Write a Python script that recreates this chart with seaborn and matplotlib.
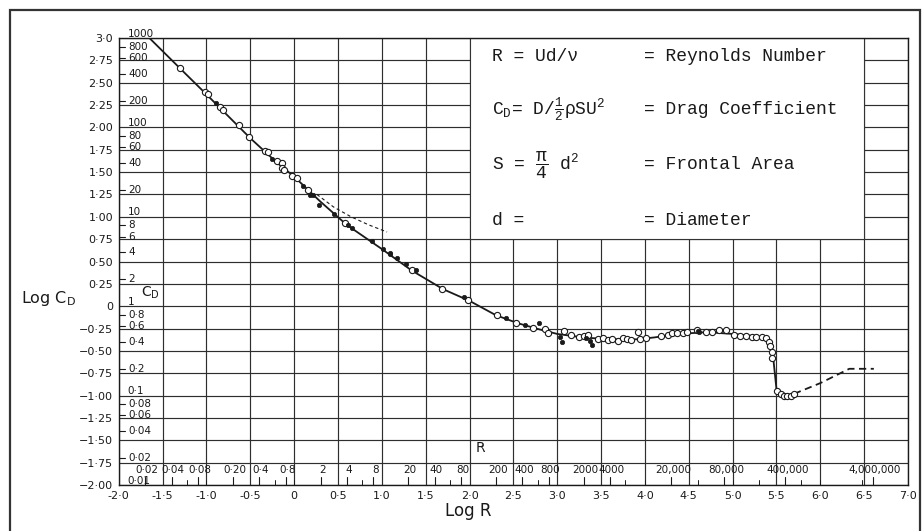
import numpy as np
import matplotlib
matplotlib.use("Agg")
import matplotlib.pyplot as plt
import seaborn as sns
from matplotlib.patches import Rectangle

# ---------------- data ----------------
curve_logR = [-1.65, -1.3, -1.0, -0.5, -0.2, 0.0, 0.3, 0.6, 1.0, 1.34, 1.7, 2.0,
              2.3, 2.55, 2.8, 3.0, 3.3, 3.6, 3.9, 4.1, 4.4, 4.7, 5.0, 5.3, 5.38,
              5.42, 5.46, 5.50, 5.55, 5.62, 5.70]
curve_logCd = [3.0, 2.66, 2.37, 1.88, 1.61, 1.45, 1.17, 0.91, 0.64, 0.40, 0.19, 0.06,
               -0.10, -0.19, -0.26, -0.31, -0.35, -0.37, -0.37, -0.35, -0.31, -0.29,
               -0.31, -0.34, -0.35, -0.42, -0.55, -0.93, -0.99, -1.00, -0.98]

oseen_logR = [0.26, 0.45, 0.65, 0.85, 1.06]
oseen_logCd = [1.25, 1.11, 1.00, 0.91, 0.83]

high_logR = [5.70, 6.0, 6.33, 6.61]
high_logCd = [-0.98, -0.86, -0.70, -0.70]

open_logR = [-1.30, -1.02, -0.98, -0.85, -0.81, -0.63, -0.51, -0.33, -0.30, -0.19,
             -0.14, -0.14, -0.11, -0.02, 0.03, 0.16, 0.58, 1.34, 1.69, 1.98, 2.31,
             2.53, 2.72, 2.86, 2.89, 3.08, 3.16, 3.25, 3.31, 3.35, 3.46, 3.52, 3.58,
             3.63, 3.69, 3.75, 3.79, 3.84, 3.92, 3.94, 4.01, 4.18, 4.26, 4.31, 4.37,
             4.43, 4.48, 4.59, 4.70, 4.77, 4.85, 4.93, 5.02, 5.08, 5.15, 5.22, 5.27,
             5.33, 5.38, 5.41, 5.43, 5.45, 5.45, 5.51, 5.55, 5.59, 5.62, 5.66, 5.70]
open_logCd = [2.66, 2.40, 2.37, 2.23, 2.20, 2.03, 1.89, 1.74, 1.72, 1.62,
              1.60, 1.55, 1.52, 1.46, 1.43, 1.30, 0.93, 0.40, 0.19, 0.07, -0.10,
              -0.19, -0.24, -0.26, -0.30, -0.28, -0.32, -0.34, -0.33, -0.32, -0.37, -0.35, -0.38,
              -0.37, -0.39, -0.35, -0.37, -0.38, -0.29, -0.37, -0.36, -0.33, -0.32, -0.30, -0.30,
              -0.30, -0.29, -0.27, -0.29, -0.29, -0.27, -0.27, -0.32, -0.33, -0.33, -0.34, -0.34,
              -0.34, -0.35, -0.40, -0.45, -0.51, -0.58, -0.95, -0.98, -1.00, -1.00, -1.00, -0.98]

filled_logR = [-0.89, -0.25, 0.10, 0.18, 0.21, 0.28, 0.46, 0.61, 0.66, 0.89, 1.01,
               1.09, 1.09, 1.17, 1.28, 1.39, 1.94, 2.42, 2.63, 2.79, 3.03, 3.05,
               3.33, 3.37, 3.40, 4.60, 4.62]
filled_logCd = [2.27, 1.65, 1.34, 1.24, 1.24, 1.13, 1.03, 0.91, 0.88, 0.73, 0.64,
                0.60, 0.58, 0.54, 0.47, 0.40, 0.10, -0.13, -0.21, -0.19, -0.34, -0.40,
                -0.36, -0.39, -0.43, -0.28, -0.29]

x_ticks = [-2.0, -1.5, -1.0, -0.5, 0.0, 0.5, 1.0, 1.5, 2.0, 2.5, 3.0, 3.5, 4.0,
           4.5, 5.0, 5.5, 6.0, 6.5, 7.0]
x_tick_labels = ["-2·0", "-1·5", "-1·0", "-0·5", "0", "0·5", "1·0", "1·5", "2·0",
                 "2·5", "3·0", "3·5", "4·0", "4·5", "5·0", "5·5", "6·0", "6·5", "7·0"]
y_ticks = [3.0, 2.75, 2.5, 2.25, 2.0, 1.75, 1.5, 1.25, 1.0, 0.75, 0.5, 0.25, 0.0,
           -0.25, -0.5, -0.75, -1.0, -1.25, -1.5, -1.75, -2.0]
y_tick_labels = ["3·0", "2·75", "2·50", "2·25", "2·00", "1·75", "1·50", "1·25",
                 "1·00", "0·75", "0·50", "0·25", "0", "−0·25", "−0·50", "−0·75",
                 "−1·00", "−1·25", "−1·50", "−1·75", "−2·00"]

cd_values = [1000, 800, 600, 400, 200, 100, 80, 60, 40, 20, 10, 8, 6, 4, 2, 1,
             0.8, 0.6, 0.4, 0.2, 0.1, 0.08, 0.06, 0.04, 0.02, 0.01]
cd_labels = ["1000", "800", "600", "400", "200", "100", "80", "60", "40", "20",
             "10", "8", "6", "4", "2", "1", "0·8", "0·6", "0·4", "0·2", "0·1",
             "0·08", "0·06", "0·04", "0·02", "0·01"]

r_values = [0.02, 0.04, 0.08, 0.2, 0.4, 0.8, 2, 4, 8, 20, 40, 80, 200, 400, 800,
            2000, 4000, 20000, 80000, 400000, 4000000]
r_labels = ["0·02", "0·04", "0·08", "0·20", "0·4", "0·8", "2", "4", "8", "20",
            "40", "80", "200", "400", "800", "2000", "4000", "20,000", "80,000",
            "400,000", "4,000,000"]
r_minor_values = [0.06, 0.1, 0.6, 1, 6, 60, 600, 6000, 10000, 40000, 100000,
                  200000, 600000, 1000000, 3000000]

# ---------------- styling ----------------
sns.set_theme(style="white")
plt.rcParams["font.family"] = ["DejaVu Sans"]
ink = "#1a1a1a"

fig = plt.figure(figsize=(9.23, 5.31), dpi=100)
fig.patch.set_facecolor("white")
ax = fig.add_axes([0.1286, 0.0866, 0.8552, 0.8418])
ax.set_facecolor("white")

ax.set_xlim(-2, 7)
ax.set_ylim(-2, 3)
ax.set_xticks(x_ticks)
ax.set_xticklabels(x_tick_labels, fontsize=8, color=ink)
ax.set_yticks(y_ticks)
ax.set_yticklabels(y_tick_labels, fontsize=8, color=ink)
ax.tick_params(axis="both", length=0, pad=4)
ax.set_axisbelow(True)
ax.grid(True, color="#2e2e2e", lw=0.85)
for sp in ax.spines.values():
    sp.set_color(ink)
    sp.set_linewidth(1.0)

# legend box (covers the grid)
ax.add_patch(Rectangle((2.0, 0.75), 4.5, 2.25, facecolor="white", edgecolor="#333333",
                       lw=0.8, zorder=1.5))

# curves
sns.lineplot(x=curve_logR, y=curve_logCd, ax=ax, color=ink, lw=1.3, sort=False,
             estimator=None, zorder=3)
sns.lineplot(x=oseen_logR, y=oseen_logCd, ax=ax, color=ink, lw=0.8, sort=False,
             estimator=None, zorder=3, linestyle=(0, (3, 2.5)))
sns.lineplot(x=high_logR, y=high_logCd, ax=ax, color=ink, lw=1.3, sort=False,
             estimator=None, zorder=3, linestyle=(0, (4, 2.5)))

# points
sns.scatterplot(x=open_logR, y=open_logCd, ax=ax, marker="o", facecolor="white",
                edgecolor=ink, s=20, linewidth=0.8, zorder=4)
sns.scatterplot(x=filled_logR, y=filled_logCd, ax=ax, marker="o", color=ink,
                edgecolor=ink, s=10, linewidth=0.5, zorder=4)

# secondary C_D scale (inside left edge)
for v, lab in zip(cd_values, cd_labels):
    y = np.log10(v)
    on_grid = abs(y - round(y)) < 1e-9
    if on_grid:
        ax.text(-1.9, y + 0.05, lab, fontsize=7.5, color=ink, ha="left", va="center",
                clip_on=False, zorder=5)
    else:
        ax.plot([-2.0, -1.93], [y, y], color=ink, lw=0.8, clip_on=False, zorder=5)
        ax.text(-1.89, y, lab, fontsize=7.5, color=ink, ha="left", va="center",
                zorder=5)
ax.text(-1.64, 0.15, r"C$_\mathregular{D}$", fontsize=10, color=ink, ha="center",
        va="center", zorder=5)

# secondary R scale (inside bottom edge)
for v, lab in zip(r_values, r_labels):
    x = np.log10(v)
    ax.plot([x, x], [-2.0, -1.91], color=ink, lw=0.8, zorder=5)
    ax.text(x + 0.02, -1.83, lab, fontsize=7.5, color=ink, ha="center",
            va="center", zorder=5)
for v in r_minor_values:
    x = np.log10(v)
    ax.plot([x, x], [-2.0, -1.94], color=ink, lw=0.7, zorder=5)
ax.text(2.13, -1.59, "R", fontsize=10, color=ink, ha="center", va="center", zorder=5)

# legend box text
mono = "Liberation Mono"
tx1, tx2 = 2.26, 3.99
rows = [
    (2.79, "R = Ud/ν", "= Reynolds Number"),
    (2.20, r"C$_\mathregular{D}$= D/$\mathregular{\frac{1}{2}}$ρSU$^\mathregular{2}$", "= Drag Coefficient"),
    (1.58, r"S = $\mathregular{\dfrac{\pi}{4}}$ d$^\mathregular{2}$", "= Frontal Area"),
    (0.96, "d =", "= Diameter"),
]
for y, left, right in rows:
    ax.text(tx1, y, left, family=mono, fontsize=13, color=ink, ha="left",
            va="center", zorder=5)
    ax.text(tx2, y, right, family=mono, fontsize=13, color=ink, ha="left",
            va="center", zorder=5)

# axis titles
fig.text(49 / 923, 1 - 298 / 531, r"Log C$_\mathregular{D}$", fontsize=11.5, color=ink,
         ha="center", va="center")
fig.text(468 / 923, 1 - 511 / 531, "Log R", fontsize=12, color=ink, ha="center",
         va="center")

# scanned page frame
fig.add_artist(Rectangle((10 / 923, -0.05), 910 / 923, 1.05 - 10 / 531,
                         transform=fig.transFigure, fill=False, ec="#333333", lw=1.6))

fig.savefig("out.png", dpi=100, facecolor="white")
